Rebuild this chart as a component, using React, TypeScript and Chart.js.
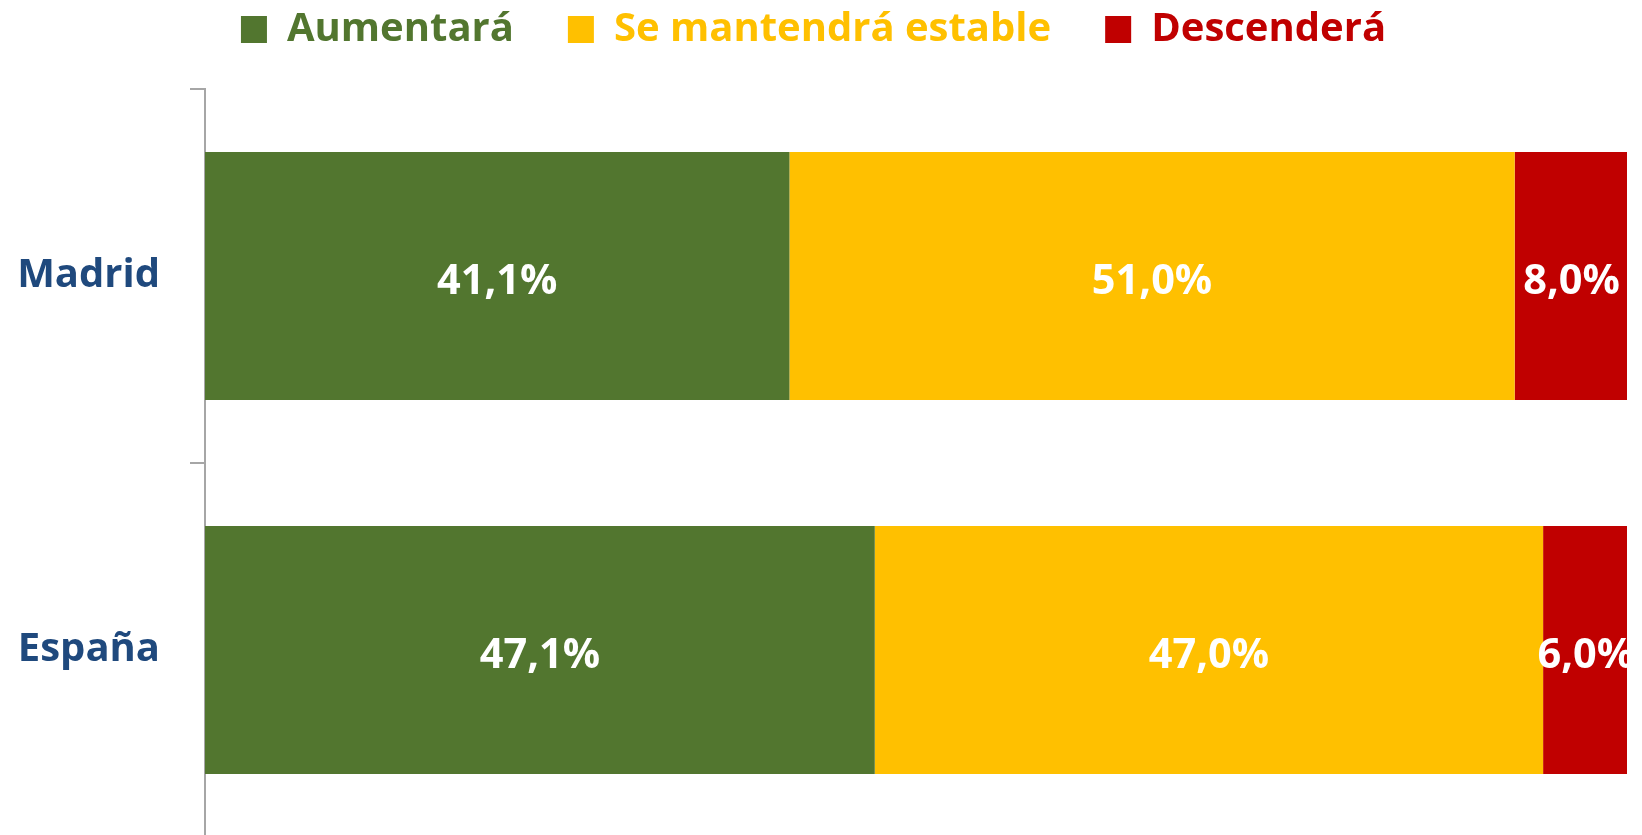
import React, { useEffect, useRef } from "react";
import { Chart, registerables } from "chart.js";

Chart.register(...registerables);

const categories = ["Madrid", "España"];
const seriesNames = ["Aumentará", "Se mantendrá estable", "Descenderá"];
const aumentara = [41.1, 47.1];
const estable = [51.0, 47.0];
const descendera = [8.0, 6.0];
const seriesColors = ["#52762F", "#FFC000", "#C00000"];
const axisMin = 0;
const axisMax = 100;

const FONT = "'Open Sans', 'Noto Sans', sans-serif";
const LEGEND_PAD = 54;

const fmt = (v: number) => v.toFixed(1).replace(".", ",") + "%";

const barLabels = {
  id: "barLabels",
  afterDatasetsDraw(chart: any) {
    const ctx = chart.ctx;
    const area = chart.chartArea;
    ctx.save();
    ctx.beginPath();
    ctx.rect(area.left, area.top, area.right - area.left, area.bottom - area.top);
    ctx.clip();
    ctx.font = `bold 41.5px ${FONT}`;
    ctx.fillStyle = "#FFFFFF";
    ctx.textAlign = "center";
    ctx.textBaseline = "middle";
    chart.data.datasets.forEach((ds: any, di: number) => {
      const meta = chart.getDatasetMeta(di);
      meta.data.forEach((bar: any, i: number) => {
        const p = bar.getProps(["x", "y", "base"], true);
        ctx.fillText(fmt(ds.data[i]), (p.x + p.base) / 2, p.y + 6);
      });
    });
    ctx.restore();
  },
};

// keep the legend row near the top while reserving space down to the plot top
const legendFit = {
  id: "legendFit",
  beforeLayout(chart: any) {
    const lg = chart.legend;
    if (lg && !lg.__patched) {
      const origFit = lg.fit;
      lg.fit = function (this: any) {
        origFit.call(this);
        this.height = 89;
      };
      const origDraw = lg.draw;
      lg.draw = function (this: any) {
        const t = this.top;
        this.top = t + 29.5 - LEGEND_PAD - 20;
        origDraw.call(this);
        this.top = t;
      };
      lg.__patched = true;
    }
  },
};

export default function App() {
  const ref = useRef<HTMLCanvasElement | null>(null);
  useEffect(() => {
    const canvas = ref.current!;
    const chart = new Chart(canvas, {
      type: "bar",
      data: {
        labels: categories,
        datasets: [
          { label: seriesNames[0], data: aumentara, backgroundColor: seriesColors[0] },
          { label: seriesNames[1], data: estable, backgroundColor: seriesColors[1] },
          { label: seriesNames[2], data: descendera, backgroundColor: seriesColors[2] },
        ],
      },
      options: {
        indexAxis: "y",
        responsive: false,
        animation: false,
        devicePixelRatio: 1,
        layout: { padding: { top: 0, left: 0, right: 15, bottom: 0 } },
        datasets: {
          bar: { categoryPercentage: 1, barPercentage: 0.663, borderWidth: 0 },
        },
        scales: {
          x: { stacked: true, display: false, min: axisMin, max: axisMax },
          y: {
            stacked: true,
            grid: {
              display: true,
              drawOnChartArea: false,
              drawTicks: true,
              tickLength: 15,
              color: "#A6A6A6",
              lineWidth: 2,
              offset: true,
            },
            border: { display: true, color: "#A6A6A6", width: 2 },
            ticks: {
              color: "#1F497D",
              font: { family: FONT, size: 40, weight: "bold" },
              padding: 30,
            },
            afterFit(scale: any) {
              scale.width = 205;
              scale.paddingTop = 0;
              scale.paddingBottom = 0;
            },
          },
        },
        plugins: {
          tooltip: { enabled: false },
          legend: {
            position: "top",
            labels: {
              boxWidth: 26,
              boxHeight: 27,
              padding: LEGEND_PAD,
              font: { family: FONT, size: 40, weight: "bold" },
              generateLabels(ch: any) {
                return ch.data.datasets.map((ds: any, i: number) => ({
                  text: ds.label,
                  fillStyle: ds.backgroundColor,
                  strokeStyle: ds.backgroundColor,
                  lineWidth: 0,
                  fontColor: ds.backgroundColor,
                  hidden: false,
                  datasetIndex: i,
                }));
              },
            },
          },
        },
      } as any,
      plugins: [barLabels, legendFit],
    });
    return () => chart.destroy();
  }, []);
  return (
    <div style={{ position: "fixed", left: 0, top: 0, width: 1642, height: 835, overflow: "hidden", background: "#fff" }}>
      <canvas ref={ref} width={1642} height={837} style={{ display: "block" }} />
    </div>
  );
}
